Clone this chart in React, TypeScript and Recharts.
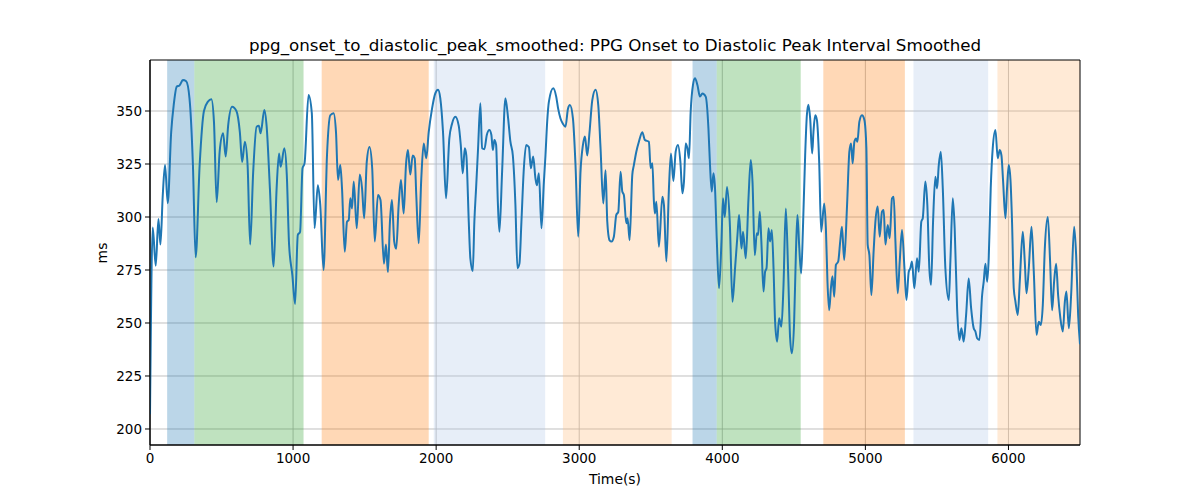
import React from 'react';
import { LineChart, Line, XAxis, YAxis, CartesianGrid, ReferenceArea } from 'recharts';

const times: number[] = [
  0, 19, 40, 59, 73, 89, 105, 124, 148, 166, 187, 206, 230, 253, 276, 300, 319, 347, 377, 405,
  429, 447, 466, 487, 511, 529, 546, 574, 604, 628, 644, 663, 682, 700, 721, 745, 761, 773, 799, 815,
  838, 864, 885, 902, 913, 939, 956, 972, 995, 1014, 1033, 1049, 1066, 1080, 1108, 1131, 1150, 1173, 1190, 1213,
  1237, 1260, 1283, 1300, 1314, 1330, 1342, 1361, 1377, 1389, 1400, 1412, 1424, 1445, 1466, 1482, 1497, 1515, 1534, 1553,
  1571, 1593, 1611, 1635, 1649, 1663, 1677, 1691, 1707, 1721, 1738, 1754, 1773, 1789, 1803, 1819, 1836, 1850, 1861, 1878,
  1896, 1913, 1931, 1948, 1971, 1994, 2013, 2029, 2048, 2069, 2092, 2111, 2134, 2158, 2172, 2186, 2200, 2211, 2228, 2239,
  2256, 2267, 2279, 2293, 2309, 2321, 2337, 2354, 2372, 2386, 2396, 2407, 2419, 2431, 2442, 2461, 2484, 2503, 2519, 2536,
  2554, 2568, 2582, 2596, 2613, 2629, 2648, 2662, 2678, 2694, 2704, 2718, 2736, 2753, 2764, 2776, 2788, 2818, 2839, 2853,
  2869, 2886, 2904, 2921, 2935, 2956, 2974, 2993, 3009, 3026, 3040, 3056, 3072, 3091, 3114, 3133, 3149, 3168, 3184, 3196,
  3212, 3226, 3242, 3259, 3273, 3289, 3301, 3312, 3329, 3338, 3352, 3371, 3382, 3399, 3417, 3441, 3459, 3487, 3499, 3511,
  3522, 3529, 3539, 3557, 3581, 3592, 3609, 3627, 3641, 3658, 3674, 3690, 3707, 3721, 3732, 3744, 3756, 3767, 3779, 3795,
  3809, 3826, 3844, 3861, 3884, 3903, 3914, 3926, 3938, 3949, 3961, 3977, 3994, 4005, 4017, 4033, 4052, 4071, 4089, 4106,
  4117, 4134, 4145, 4164, 4183, 4199, 4211, 4227, 4241, 4250, 4262, 4273, 4288, 4299, 4309, 4323, 4334, 4346, 4358, 4369,
  4383, 4397, 4413, 4427, 4444, 4460, 4474, 4486, 4502, 4514, 4525, 4537, 4551, 4565, 4579, 4591, 4602, 4614, 4628, 4637,
  4649, 4661, 4677, 4691, 4712, 4724, 4735, 4747, 4759, 4770, 4782, 4794, 4810, 4824, 4836, 4852, 4872, 4888, 4900, 4911,
  4923, 4935, 4944, 4958, 4976, 4993, 5007, 5016, 5028, 5042, 5058, 5070, 5086, 5100, 5116, 5128, 5140, 5156, 5170, 5186,
  5198, 5210, 5226, 5240, 5256, 5273, 5287, 5303, 5314, 5326, 5342, 5361, 5373, 5391, 5401, 5419, 5433, 5447, 5459, 5473,
  5489, 5501, 5513, 5527, 5541, 5559, 5583, 5594, 5611, 5624, 5641, 5657, 5671, 5687, 5704, 5722, 5739, 5757, 5769, 5781,
  5797, 5816, 5827, 5839, 5851, 5862, 5876, 5890, 5909, 5925, 5939, 5951, 5962, 5979, 5990, 6002, 6014, 6025, 6037, 6049,
  6065, 6079, 6100, 6114, 6126, 6142, 6161, 6177, 6196, 6212, 6226, 6240, 6254, 6275, 6291, 6305, 6319, 6333, 6347, 6363,
  6380, 6394, 6405, 6422, 6438, 6459, 6473, 6487, 6500,
];

const values: number[] = [
  207, 295, 277, 299, 287, 310, 324.5, 306.5, 340, 353, 361.5, 362, 364.6, 364, 356, 324.5, 281, 324.5, 350, 354.4,
  355.5, 345, 307, 331, 339.5, 328.5, 343, 352, 350, 340, 326, 335.5, 324.5, 287, 321, 342.6, 343, 339.5, 350.5, 343,
  313.5, 276.6, 313.5, 330, 323.7, 332.4, 320, 287, 272.6, 259, 291.5, 293, 323, 325.3, 357.5, 349, 294.7, 315, 305.7, 275,
  329, 348, 349, 340, 317.5, 324.5, 313.5, 283.6, 297.8, 298.6, 308.8, 304, 316.7, 294.7, 320, 313.5, 299.4, 326, 333, 323,
  288.4, 310.4, 308, 278, 287, 274, 297.8, 308, 288.4, 285, 305.7, 317.5, 301.7, 324.5, 331.6, 320, 329, 327.7, 310.4, 287.6,
  318, 334.7, 327.7, 340, 351, 358.3, 360, 356, 340, 308.8, 337, 344, 347.3, 343, 334, 320.6, 332.4, 329, 297.8, 280.5,
  274.5, 297.8, 313.5, 332.4, 353.6, 332.4, 332, 338.7, 341, 338.7, 331.6, 336.3, 334, 307.2, 293, 321.4, 356, 346.5, 335.5, 329,
  305.7, 275.8, 278, 297.8, 323, 334, 333, 323, 328.5, 318.2, 315, 320.6, 294.7, 316.7, 329, 345, 354.4, 360.7, 356.8, 351,
  346.5, 344, 342.6, 351, 352.8, 346.5, 324.5, 290.7, 321.4, 334, 338, 329, 340, 355, 360, 352.8, 332.4, 306.4, 322, 297.8,
  289, 288.4, 290.7, 301, 302.4, 321.4, 312, 310.4, 297, 299.4, 289, 320, 324.5, 330.8, 335.5, 340, 336.3, 335.5, 323, 325.3,
  307.2, 301.7, 307.2, 286, 309.6, 305.7, 279, 313.5, 330, 317, 330.8, 334, 326, 311.2, 316.7, 334.7, 332.4, 327.7, 349.7, 362.3,
  365.4, 362.3, 356.8, 358.3, 356.8, 341.8, 324.5, 312, 320.6, 313.5, 290, 266.4, 288.4, 308.8, 300, 314.2, 297.8, 260, 275.8, 291.5,
  301, 285.2, 293, 280.5, 308.8, 326.9, 316.7, 282, 292.3, 291.5, 302.5, 288.4, 264.8, 274.2, 275.8, 294.7, 288.4, 293.9, 275.8, 250.6,
  241.2, 252.2, 248.3, 266.4, 304, 274.2, 242.8, 235.7, 250.6, 282, 301, 286.8, 273.4, 297.8, 329, 348, 353, 346.5, 330, 340,
  348, 345.8, 326, 293, 306.4, 294.7, 269.5, 256, 266.4, 272, 262.4, 277.4, 279, 288.4, 295.4, 279.7, 305.7, 330.8, 334.7, 325.3,
  335.5, 337, 335.5, 345, 348, 345.8, 332.4, 287, 282, 263.2, 284.4, 297.8, 305, 290.7, 302.5, 303.3, 287, 296.2, 290, 308.8,
  309.6, 288.4, 264, 279, 293.9, 275.8, 260.8, 274.2, 275.8, 279, 266.4, 280.5, 274.2, 297.8, 299.4, 316.7, 305.7, 275.8, 268, 297.8,
  319, 313.5, 324.5, 330.8, 313.5, 275.8, 260.8, 279, 308.8, 294.7, 257, 242, 247.5, 241.2, 253.8, 271, 257, 247.5, 246, 242.8,
  242, 263.2, 269.5, 278, 269.5, 280.5, 313.5, 332.4, 341, 327.7, 331.6, 329, 317.5, 299.4, 313.5, 324.5, 317.5, 297.8, 266.4, 260,
  253.8, 269.5, 293, 279, 264, 275.8, 295.4, 274.2, 244.4, 250.6, 249, 258.5, 285, 300, 279, 256, 269.5, 278, 263.2, 252.2,
  246, 260, 264.8, 247.5, 263.2, 295.4, 282, 253.8, 240,
];

const spanStarts: number[] = [120, 310, 1200, 1983, 2886, 3792, 3961, 4706, 5336, 5923];
const spanEnds: number[] = [310, 1073, 1948, 2762, 3646, 3961, 4548, 5276, 5858, 6500];
const spanColors: string[] = ['#1f77b4', '#2ca02c', '#ff7f0e', '#aec7e8', '#ffbb78', '#1f77b4', '#2ca02c', '#ff7f0e', '#aec7e8', '#ffbb78'];

const xTicks: number[] = [0, 1000, 2000, 3000, 4000, 5000, 6000];
const yTicks: number[] = [200, 225, 250, 275, 300, 325, 350];

const title = 'ppg_onset_to_diastolic_peak_smoothed: PPG Onset to Diastolic Peak Interval Smoothed';
const xLabel = 'Time(s)';
const yLabel = 'ms';

const data = times.map((t, i) => ({ t, v: values[i] }));

const Y_MIN = 192.45;
const Y_MAX = 374.06;
const FONT = '"DejaVu Sans", sans-serif';

export default function App() {
  return (
    <div style={{ position: 'absolute', left: 0, top: 0, width: 1200, height: 500, background: '#fff', fontFamily: FONT }}>
      <LineChart width={1200} height={500} data={data} margin={{ top: 60, right: 120, bottom: 25, left: 90 }}>
        <CartesianGrid stroke="#b0b0b0" strokeWidth={0.8} horizontalValues={yTicks} verticalValues={xTicks} />
        {spanStarts.map((s, i) => (
          <ReferenceArea key={i} x1={s} x2={spanEnds[i]} y1={Y_MIN} y2={Y_MAX} fill={spanColors[i]} fillOpacity={0.3} stroke="none" ifOverflow="hidden" />
        ))}
        <XAxis
          dataKey="t"
          type="number"
          domain={[0, 6500]}
          ticks={xTicks}
          allowDataOverflow
          height={30}
          tickSize={5}
          tickMargin={3}
          stroke="#000"
          tick={{ fill: '#000', fontSize: 13.5, fontFamily: FONT }}
        />
        <YAxis
          type="number"
          domain={[Y_MIN, Y_MAX]}
          ticks={yTicks}
          allowDataOverflow
          width={60}
          tickSize={5}
          tickMargin={3}
          stroke="#000"
          tick={{ fill: '#000', fontSize: 13.5, fontFamily: FONT }}
        />
        <Line type="monotone" dataKey="v" stroke="#1f77b4" strokeWidth={2} dot={false} isAnimationActive={false} />
        <ReferenceArea x1={0} x2={6500} y1={Y_MIN} y2={Y_MAX} fill="none" stroke="#000" strokeWidth={1} ifOverflow="visible" />
      </LineChart>
      <div style={{ position: 'absolute', left: 150, top: 35, width: 930, textAlign: 'center', fontSize: 16.7, color: '#000', whiteSpace: 'nowrap' }}>
        {title}
      </div>
      <div style={{ position: 'absolute', left: 150, top: 471, width: 930, textAlign: 'center', fontSize: 13.9, color: '#000' }}>
        {xLabel}
      </div>
      <div style={{ position: 'absolute', left: 92, top: 245, fontSize: 13.9, color: '#000', transform: 'rotate(-90deg)', transformOrigin: 'center' }}>
        {yLabel}
      </div>
    </div>
  );
}
